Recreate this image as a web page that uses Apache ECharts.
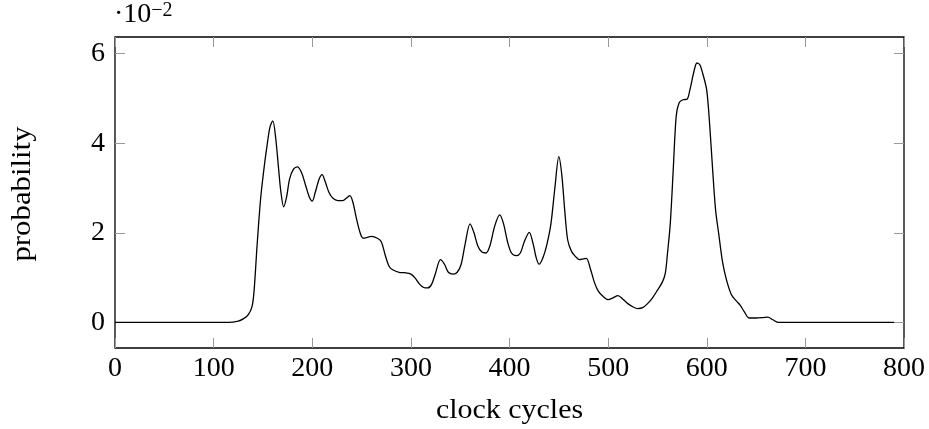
<!DOCTYPE html>
<html>
<head>
<meta charset="utf-8">
<script src="https://cdn.jsdelivr.net/npm/echarts@6/dist/echarts.min.js"></script>
<style>html,body{margin:0;padding:0;background:#fff}#c{width:929px;height:429px}</style>
</head>
<body>
<div id="c"></div>
<script>
// clock cycles
const xs = [0,100,115,125,130,135,139,141,144,147,149,152,154,157,160,163,166,168,171,174,177,181,185,189,193,197,200,203,207,210,213,217,221,226,231,235,238,241,245,249,252,256,260,266,270,274,278,282,288,294,300,304,309,313,317,321,325,330,334,338,343,347,351,355,360,364,368,372,376,380,385,390,394,398,402,407,411,415,420,424,427,430,434,438,442,446,450,453,456,459,463,467,471,475,478,482,486,490,495,500,505,510,515,520,525,530,535,540,545,550,555,558,560,563,566,569,572,576,580,583,587,590,593,596,600,603,606,609,612,616,620,625,630,634,638,643,650,657,662,667,673,700,790];
// probability in units of 1e-2
const ys = [0,0,0,0.03,0.08,0.17,0.36,0.7,1.7,2.6,3.05,3.6,3.92,4.35,4.5,4.1,3.4,2.95,2.58,2.8,3.2,3.42,3.47,3.35,3.08,2.8,2.71,2.9,3.2,3.3,3.15,2.9,2.77,2.72,2.72,2.78,2.83,2.7,2.3,1.97,1.88,1.9,1.92,1.88,1.8,1.5,1.25,1.17,1.12,1.11,1.08,1.0,0.85,0.78,0.77,0.85,1.1,1.4,1.3,1.12,1.08,1.12,1.3,1.75,2.2,2.0,1.7,1.57,1.55,1.7,2.15,2.4,2.2,1.8,1.55,1.49,1.55,1.8,2.01,1.75,1.45,1.3,1.45,1.75,2.2,3.0,3.7,3.3,2.5,1.84,1.58,1.47,1.4,1.42,1.43,1.2,0.9,0.7,0.58,0.51,0.55,0.6,0.52,0.42,0.35,0.31,0.33,0.42,0.55,0.72,0.9,1.1,1.5,2.2,3.4,4.6,4.9,4.97,4.98,5.2,5.6,5.79,5.75,5.55,5.18,4.4,3.4,2.5,2.0,1.35,0.95,0.62,0.48,0.38,0.24,0.10,0.1,0.11,0.12,0.06,0,0,0];
const xTicks = [0,100,200,300,400,500,600,700,800];
const yTicks = [0,2,4,6];

const FONT = '"Liberation Serif", serif';
const chart = echarts.init(document.getElementById('c'), null, {renderer:'canvas'});
const tick = (vals) => ({show:true, inside:true, length:10, customValues:vals, lineStyle:{color:'#999', width:1}});
const noLine = {show:false, onZero:false};
chart.setOption({
  animation:false,
  backgroundColor:'#fff',
  grid:{left:115, right:25, top:37, bottom:81, show:true, borderColor:'#000', borderWidth:1.3, backgroundColor:'transparent'},
  xAxis:[{
    type:'value', min:0, max:800, position:'bottom',
    axisLine:noLine, splitLine:{show:false},
    axisTick:tick(xTicks),
    axisLabel:{customValues:xTicks, fontFamily:FONT, fontSize:28, color:'#000', margin:7}
  },{
    type:'value', min:0, max:800, position:'top',
    axisLine:noLine, splitLine:{show:false},
    axisTick:tick(xTicks),
    axisLabel:{show:false}
  }],
  yAxis:[{
    type:'value', min:-0.57, max:6.37, position:'left',
    axisLine:noLine, splitLine:{show:false},
    axisTick:tick(yTicks),
    axisLabel:{customValues:yTicks, fontFamily:FONT, fontSize:28, color:'#000', margin:10}
  },{
    type:'value', min:-0.57, max:6.37, position:'right',
    axisLine:noLine, splitLine:{show:false},
    axisTick:tick(yTicks),
    axisLabel:{show:false}
  }],
  series:[{
    type:'line', xAxisIndex:0, yAxisIndex:0,
    data: xs.map((x,i)=>[x, ys[i]]),
    smooth:0.3, showSymbol:false, symbol:'none',
    lineStyle:{color:'#000', width:1.3}
  }],
  graphic:[
    {type:'text', x:509.5, y:411, scaleX:1.07, style:{text:'clock cycles', font:'28px "Liberation Serif", serif', fill:'#000', align:'center', verticalAlign:'middle'}},
    {type:'text', x:23, y:194, rotation:Math.PI/2, scaleX:1.1, style:{text:'probability', font:'28px "Liberation Serif", serif', fill:'#000', align:'center', verticalAlign:'middle'}},
    {type:'text', x:114, y:1, style:{rich:{a:{fontFamily:FONT, fontSize:28, fill:'#000'}, b:{fontFamily:FONT, fontSize:20, fill:'#000', verticalAlign:'top'}}, text:'{a|·10}{b|−2}', fill:'#000'}}
  ]
});
</script>
</body>
</html>
